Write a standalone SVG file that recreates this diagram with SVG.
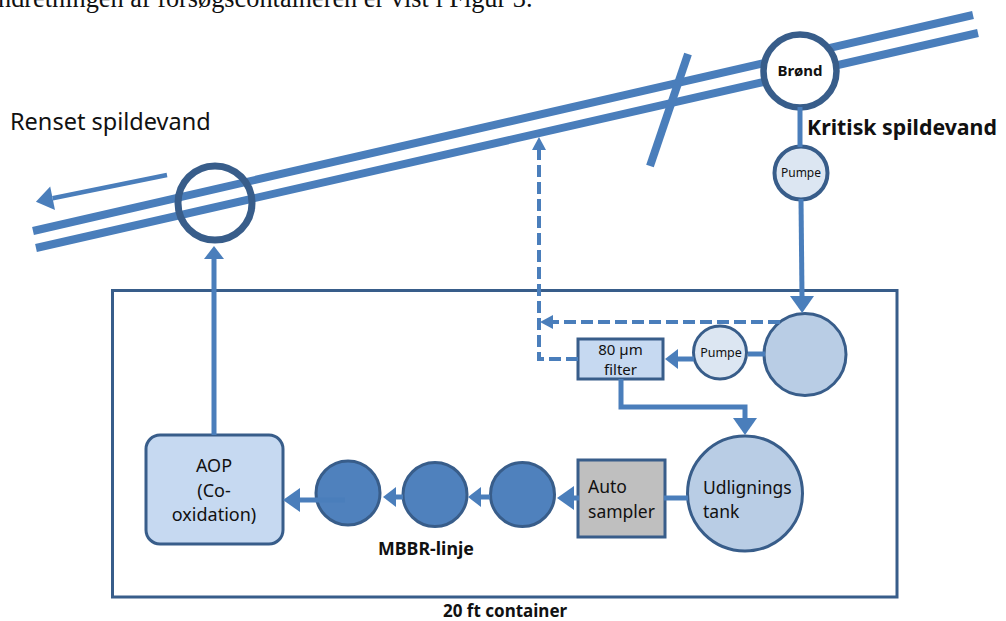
<svg xmlns="http://www.w3.org/2000/svg" width="1006" height="621" viewBox="0 0 1006 621">
<style>
.pipe{stroke:#4a7ebb;stroke-width:8;fill:none}
.con{stroke:#4a7ebb;stroke-width:5;fill:none}
.dash{stroke:#4a7ebb;stroke-width:4;fill:none;stroke-dasharray:12 5}
.node{stroke:#385d8a;stroke-width:3}
.t{font-family:"Noto Sans","Open Sans",sans-serif;fill:#111}
.b{font-weight:700}
</style>
<defs>
<marker id="aBig" markerUnits="userSpaceOnUse" markerWidth="1" markerHeight="1" overflow="visible" orient="auto" refX="0" refY="0"><path d="M0,-12 L17,0 L0,12 Z" fill="#4a7ebb"/></marker>
<marker id="aMed" markerUnits="userSpaceOnUse" markerWidth="1" markerHeight="1" overflow="visible" orient="auto" refX="0" refY="0"><path d="M0,-10 L13,0 L0,10 Z" fill="#4a7ebb"/></marker>
<marker id="aSm" markerUnits="userSpaceOnUse" markerWidth="1" markerHeight="1" overflow="visible" orient="auto" refX="0" refY="0"><path d="M0,-7 L13,0 L0,7 Z" fill="#4a7ebb"/></marker>
</defs>
<rect width="1006" height="621" fill="#fff"/>
<text x="-2" y="7" font-family="Liberation Serif,serif" font-size="26.3" fill="#111">ndretningen af forsøgscontaineren er vist i Figur 3.</text>

<g id="pipe">
<line class="pipe" x1="33" y1="231" x2="973" y2="15"/>
<line class="pipe" x1="36" y1="248" x2="978" y2="33"/>
<line class="pipe" x1="688" y1="54" x2="650" y2="166" stroke-width="7"/>
</g>
<text class="t" x="10" y="130" font-size="23.5">Renset spildevand</text>
<text class="t b" x="807" y="135" font-size="21.3">Kritisk spildevand</text>

<g id="outlet"><circle cx="215" cy="203" r="37" fill="none" stroke="#385d8a" stroke-width="7"/></g>
<g id="brond"><circle cx="800" cy="71" r="36.5" fill="#fff" stroke="#385d8a" stroke-width="6.5"/><text class="t b" x="800" y="76" font-size="15" text-anchor="middle">Brønd</text></g>
<g id="pumpe1"><circle cx="801" cy="173" r="26.5" fill="#dce6f2" stroke="#385d8a" stroke-width="4"/><text class="t" x="801" y="177" font-size="12" text-anchor="middle" fill="#222">Pumpe</text></g>

<g id="container"><rect x="112.5" y="290.5" width="784.5" height="306.5" fill="none" stroke="#385d8a" stroke-width="3"/><text class="t b" x="443" y="617" font-size="17">20 ft container</text></g>

<g id="tank"><circle class="node" cx="805" cy="354.5" r="41" fill="#b9cde5"/></g>
<g id="pumpe2"><circle class="node" cx="720" cy="352.5" r="26.5" fill="#dce6f2"/><text class="t" x="721" y="357" font-size="12.5" text-anchor="middle" fill="#222">Pumpe</text></g>
<g id="filter"><rect class="node" x="578" y="339" width="85" height="40" fill="#c6d9f1"/><text class="t" x="620.5" y="355" font-size="15" text-anchor="middle">80 µm</text><text class="t" x="620.5" y="375" font-size="15" text-anchor="middle">filter</text></g>
<g id="udlignings"><circle class="node" cx="745" cy="493.5" r="57.5" fill="#b9cde5"/><text class="t" x="703" y="494" font-size="17.5">Udlignings</text><text class="t" x="703" y="518" font-size="17.5">tank</text></g>
<g id="autosampler"><rect class="node" x="578" y="460" width="87" height="77" fill="#bfbfbf"/><text class="t" x="588" y="493" font-size="17.5">Auto</text><text class="t" x="588" y="518" font-size="17.5">sampler</text></g>
<g id="mbbr1"><circle class="node" cx="348" cy="493" r="32" fill="#4f81bd"/></g>
<g id="mbbr2"><circle class="node" cx="435" cy="494.5" r="32" fill="#4f81bd"/></g>
<g id="mbbr3"><circle class="node" cx="522.5" cy="494.5" r="32" fill="#4f81bd"/></g>
<text class="t b" x="378" y="555" font-size="17.8">MBBR-linje</text>
<g id="aop"><rect class="node" x="146" y="435" width="137" height="109" rx="14" fill="#c6d9f1"/><text class="t" x="214" y="472" font-size="18" text-anchor="middle">AOP</text><text class="t" x="214" y="497" font-size="18" text-anchor="middle">(Co-</text><text class="t" x="214" y="521" font-size="18" text-anchor="middle">oxidation)</text></g>

<g id="connectors">
<line x1="167" y1="175" x2="52.6" y2="198.3" stroke="#4a7ebb" stroke-width="4.5" marker-end="url(#aBig)"/>
<line class="con" x1="800" y1="107" x2="800" y2="147"/>
<line class="con" x1="801" y1="199" x2="802" y2="296" marker-end="url(#aBig)"/>
<path class="dash" d="M780,322 H553" marker-end="url(#aSm)"/>
<path class="dash" d="M578,359 H539 V150" marker-end="url(#aSm)"/>
<line class="con" x1="748" y1="354" x2="765" y2="354"/>
<line class="con" x1="694" y1="359" x2="678" y2="359" marker-end="url(#aMed)"/>
<path class="con" d="M621,379 V407 H745 V418" marker-end="url(#aBig)"/>
<line class="con" x1="688" y1="498" x2="664" y2="498"/>
<line class="con" x1="579" y1="498" x2="574" y2="498" marker-end="url(#aBig)"/>
<line class="con" x1="490" y1="497" x2="481" y2="497" marker-end="url(#aMed)"/>
<line class="con" x1="403" y1="497" x2="396" y2="497" marker-end="url(#aMed)"/>
<line class="con" x1="345" y1="500" x2="300" y2="500" marker-end="url(#aBig)"/>
<line class="con" x1="214" y1="435" x2="214" y2="259" marker-end="url(#aMed)"/>
</g>
</svg>
